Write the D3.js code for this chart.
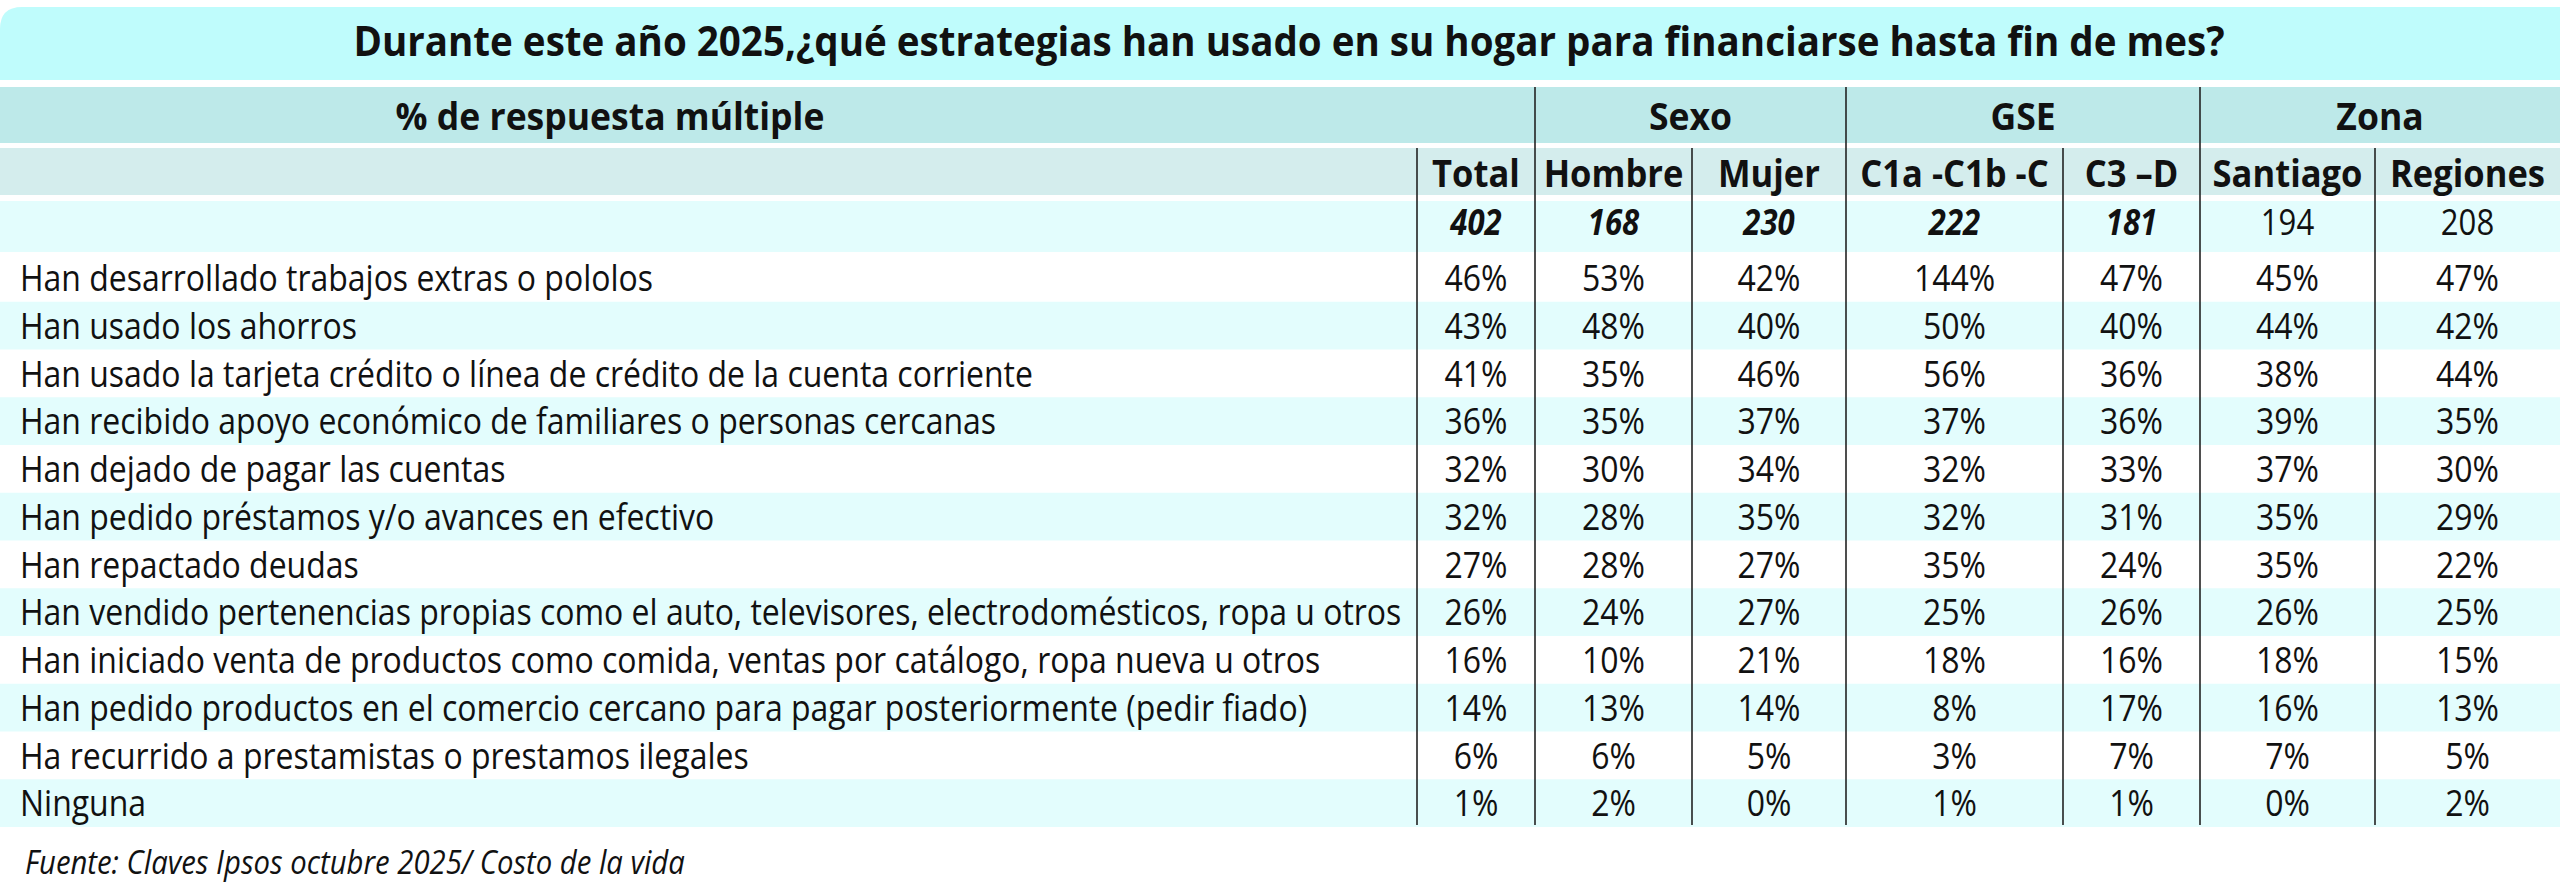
<!DOCTYPE html>
<html>
<head>
<meta charset="utf-8">
<script src="https://cdn.jsdelivr.net/npm/d3@7"></script>
<style>
  body { margin: 0; background: #fff; }
  svg { display: block; }
</style>
</head>
<body>
<svg id="svg" width="2560" height="886"></svg>
<script>
// data
const title = 'Durante este año 2025,¿qué estrategias han usado en su hogar para financiarse hasta fin de mes?'
const stubHeader = '% de respuesta múltiple'
const groups = ['Sexo', 'GSE', 'Zona']
const columns = ['Total', 'Hombre', 'Mujer', 'C1a -C1b -C', 'C3 –D', 'Santiago', 'Regiones']
const columnGroup = [null, 'Sexo', 'Sexo', 'GSE', 'GSE', 'Zona', 'Zona']
const sampleSizes = [402, 168, 230, 222, 181, 194, 208]
const sampleEmphasis = [true, true, true, true, true, false, false]

const strategies = [
  'Han desarrollado trabajos extras o pololos',
  'Han usado los ahorros',
  'Han usado la tarjeta crédito o línea de crédito de la cuenta corriente',
  'Han recibido apoyo económico de familiares o personas cercanas',
  'Han dejado de pagar las cuentas',
  'Han pedido préstamos y/o avances en efectivo',
  'Han repactado deudas',
  'Han vendido pertenencias propias como el auto, televisores, electrodomésticos, ropa u otros',
  'Han iniciado venta de productos como comida, ventas por catálogo, ropa nueva u otros',
  'Han pedido productos en el comercio cercano para pagar posteriormente (pedir fiado)',
  'Ha recurrido a prestamistas o prestamos ilegales',
  'Ninguna'
]
const total    = [46, 43, 41, 36, 32, 32, 27, 26, 16, 14, 6, 1]
const hombre   = [53, 48, 35, 35, 30, 28, 28, 24, 10, 13, 6, 2]
const mujer    = [42, 40, 46, 37, 34, 35, 27, 27, 21, 14, 5, 0]
const c1abc    = [144, 50, 56, 37, 32, 32, 35, 25, 18, 8, 3, 1]
const c3d      = [47, 40, 36, 36, 33, 31, 24, 26, 16, 17, 7, 1]
const santiago = [45, 44, 38, 39, 37, 35, 35, 26, 18, 16, 7, 0]
const regiones = [47, 42, 44, 35, 30, 29, 22, 25, 15, 13, 5, 2]
const source = 'Fuente: Claves Ipsos octubre 2025/ Costo de la vida'

const series = [total, hombre, mujer, c1abc, c3d, santiago, regiones]

// layout
const W = 2560
const stubWidth = 1417
const colWidths = [118, 157, 154, 217, 137, 175, 185]
const font = '"Open Sans", "DejaVu Sans", sans-serif'
const colors = {
  title: '#bffcfc',
  head1: '#bde9e9',
  head2: '#d4eded',
  stripe: '#e3fdfd',
  rule: '#222'
}

const svg = d3.select('#svg')

const edges = [stubWidth, ...d3.cumsum(colWidths).map(d => d + stubWidth)]
const xCol = d3.scaleOrdinal().domain(columns).range(edges.slice(0, -1))
const colW = d3.scaleOrdinal().domain(columns).range(colWidths)
const xMid = c => xCol(c) + colW(c) / 2

const yRow = d3.scaleBand()
  .domain(d3.range(strategies.length))
  .range([254, 827])

const bands = {
  title: [7, 80],
  head1: [87, 143],
  head2: [148, 195],
  n: [201, 252]
}

// measure a string so condensed type can be imitated with a horizontal squeeze
const measure = (txt, size, weight, style) => {
  const t = svg.append('text')
    .attr('font-family', font)
    .attr('font-size', size)
    .attr('font-weight', weight || 400)
    .attr('font-style', style || 'normal')
    .text(txt)
  const w = t.node().getComputedTextLength()
  t.remove()
  return w
}

const sizes = { title: 41, head1: 38, head2: 38, n: 36, body: 37, source: 32 }
const sx = {
  title: 1872 / measure(title, sizes.title, 700),
  head1: 429 / measure(stubHeader, sizes.head1, 700),
  head2: 155 / measure('Regiones', sizes.head2, 700),
  body: 1382 / measure(strategies[7], sizes.body),
  source: 660 / measure(source, sizes.source, 400, 'italic')
}

const squeezed = (parent, txt, x, y, opt) => {
  const g = parent.append('g')
    .attr('transform', `translate(${x},${y}) scale(${opt.sx},1)`)
  g.append('text')
    .attr('font-family', font)
    .attr('font-size', opt.size)
    .attr('font-weight', opt.weight || 400)
    .attr('font-style', opt.style || 'normal')
    .attr('text-anchor', opt.anchor || 'start')
    .attr('fill', '#111')
    .text(txt)
  return g
}

// backgrounds
const bg = svg.append('g')
const r = 22
bg.append('path')
  .attr('d', `M0,${bands.title[0] + r} Q0,${bands.title[0]} ${r},${bands.title[0]} L${W},${bands.title[0]} L${W},${bands.title[1]} L0,${bands.title[1]} Z`)
  .attr('fill', colors.title)
bg.append('rect')
  .attr('x', 0).attr('y', bands.head1[0])
  .attr('width', W).attr('height', bands.head1[1] - bands.head1[0])
  .attr('fill', colors.head1)
bg.append('rect')
  .attr('x', 0).attr('y', bands.head2[0])
  .attr('width', W).attr('height', bands.head2[1] - bands.head2[0])
  .attr('fill', colors.head2)
bg.append('rect')
  .attr('x', 0).attr('y', bands.n[0])
  .attr('width', W).attr('height', bands.n[1] - bands.n[0])
  .attr('fill', colors.stripe)

bg.selectAll('rect.stripe')
  .data(strategies.map((s, i) => i).filter(i => i % 2 === 1))
  .enter()
  .append('rect')
  .attr('class', 'stripe')
  .attr('x', 0)
  .attr('y', i => yRow(i))
  .attr('width', W)
  .attr('height', yRow.bandwidth())
  .attr('fill', colors.stripe)

// vertical rules
const rules = svg.append('g')
columns.forEach((c, i) => {
  const startsGroup = i === 0 || columnGroup[i] !== columnGroup[i - 1]
  rules.append('line')
    .attr('x1', xCol(c)).attr('x2', xCol(c))
    .attr('y1', startsGroup && i > 0 ? bands.head1[0] : bands.head2[0])
    .attr('y2', yRow.range()[1] - 2)
    .attr('stroke', colors.rule)
    .attr('stroke-width', 1.6)
})

// title
squeezed(svg, title, 1289, 56,
  { sx: sx.title, size: sizes.title, weight: 700, anchor: 'middle' })

// header row 1
squeezed(svg, stubHeader, 610, 130,
  { sx: sx.head1, size: sizes.head1, weight: 700, anchor: 'middle' })
groups.forEach(gname => {
  const cols = columns.filter((c, i) => columnGroup[i] === gname)
  const x0 = xCol(cols[0])
  const x1 = xCol(cols[cols.length - 1]) + colW(cols[cols.length - 1])
  squeezed(svg, gname, (x0 + x1) / 2, 130,
    { sx: sx.head1, size: sizes.head1, weight: 700, anchor: 'middle' })
})

// header row 2
columns.forEach(c => {
  squeezed(svg, c, xMid(c), 187,
    { sx: sx.head2, size: sizes.head2, weight: 700, anchor: 'middle' })
})

// sample sizes
columns.forEach((c, i) => {
  squeezed(svg, sampleSizes[i], xMid(c), 235,
    { sx: sx.body, size: sizes.n,
      weight: sampleEmphasis[i] ? 700 : 400,
      style: sampleEmphasis[i] ? 'italic' : 'normal',
      anchor: 'middle' })
})

// body rows
strategies.forEach((s, i) => {
  const yb = yRow(i) + yRow.bandwidth() / 2 + 0.36 * sizes.body
  squeezed(svg, s, 20, yb, { sx: sx.body, size: sizes.body })
  columns.forEach((c, j) => {
    squeezed(svg, series[j][i] + '%', xMid(c), yb,
      { sx: sx.body, size: sizes.body, anchor: 'middle' })
  })
})

// source
squeezed(svg, source, 25, 874,
  { sx: sx.source, size: sizes.source, style: 'italic' })
</script>
</body>
</html>
